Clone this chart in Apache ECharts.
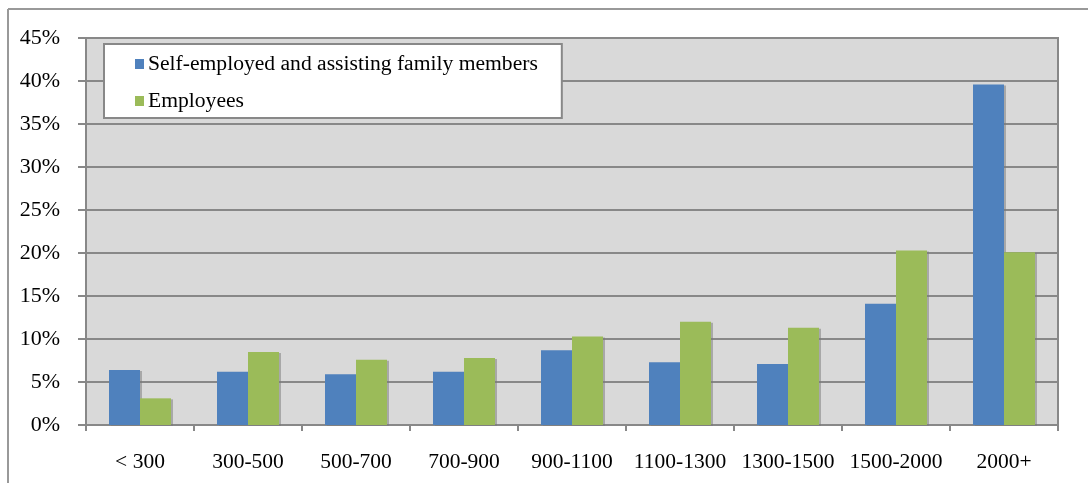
<!DOCTYPE html>
<html><head><meta charset="utf-8">
<script src="https://cdn.jsdelivr.net/npm/echarts@6/dist/echarts.min.js"></script>
<style>html,body{margin:0;padding:0;background:#fff}#c{width:1088px;height:483px}</style>
</head><body><div id="c"></div>
<script>
const categories = ['< 300','300-500','500-700','700-900','900-1100','1100-1300','1300-1500','1500-2000','2000+'];
const selfEmployed = [6.4, 6.2, 5.9, 6.2, 8.7, 7.3, 7.1, 14.1, 39.6];
const employees = [3.1, 8.5, 7.6, 7.8, 10.3, 12.0, 11.3, 20.3, 20.1];
const seriesNames = ['Self-employed and assisting family members', 'Employees'];
const font = '"Liberation Serif", "Times New Roman", serif';
const chart = echarts.init(document.getElementById('c'), null, {renderer: 'canvas'});
const barShadow = {shadowColor: 'rgba(120,120,120,0.5)', shadowOffsetX: 2, shadowOffsetY: 1, shadowBlur: 0};
chart.setOption({
  animation: false,
  textStyle: {fontFamily: font},
  graphic: [
    {type: 'line', shape: {x1: 8, y1: 9, x2: 1088, y2: 9}, style: {stroke: '#999', lineWidth: 2}, silent: true},
    {type: 'line', shape: {x1: 8, y1: 9, x2: 8, y2: 483}, style: {stroke: '#999', lineWidth: 2}, silent: true}
  ],
  grid: {left: 86, right: 30, top: 38, bottom: 58, show: true, backgroundColor: '#d9d9d9', borderColor: '#888', borderWidth: 2},
  legend: {
    orient: 'vertical', left: 104, top: 44,
    backgroundColor: '#fff', borderColor: '#888', borderWidth: 2,
    padding: [9, 24, 6, 31],
    itemWidth: 9, itemHeight: 10, itemGap: 15,
    icon: 'rect',
    textStyle: {fontFamily: font, fontSize: 21.6, color: '#000', padding: [0, 0, 0, -1]},
    data: seriesNames
  },
  xAxis: {
    type: 'category', data: categories,
    axisLine: {lineStyle: {color: '#888', width: 2}},
    axisTick: {show: true, length: 6, lineStyle: {color: '#888', width: 2}},
    axisLabel: {fontFamily: font, fontSize: 21.5, color: '#000', margin: 26, interval: 0}
  },
  yAxis: {
    type: 'value', min: 0, max: 45, interval: 5,
    axisLine: {show: true, lineStyle: {color: '#888', width: 2}},
    axisTick: {show: true, length: 8, lineStyle: {color: '#888', width: 2}},
    axisLabel: {fontFamily: font, fontSize: 22, color: '#000', margin: 26, formatter: '{value}%'},
    splitLine: {lineStyle: {color: '#888', width: 2}}
  },
  series: [
    {name: seriesNames[0], type: 'bar', data: selfEmployed, barWidth: 31, barGap: '0%', itemStyle: Object.assign({color: '#4f81bd'}, barShadow)},
    {name: seriesNames[1], type: 'bar', data: employees, barWidth: 31, barGap: '0%', itemStyle: Object.assign({color: '#9bbb59'}, barShadow)}
  ]
});
</script></body></html>
